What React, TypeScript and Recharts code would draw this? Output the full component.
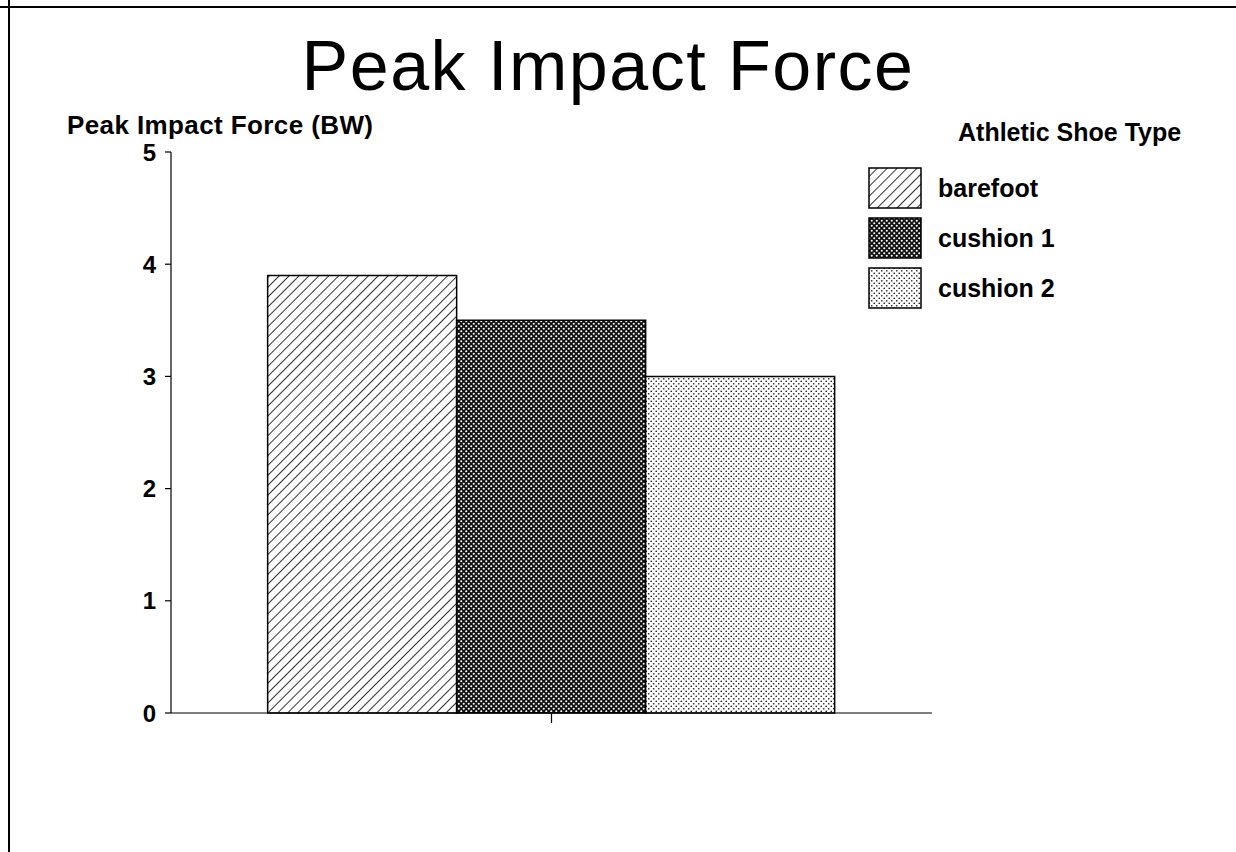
import { BarChart, Bar, XAxis, YAxis, Legend } from 'recharts'

const categories = ['Athletic Shoe Type']
const seriesNames = ['barefoot', 'cushion 1', 'cushion 2']
const seriesValues = [3.9, 3.5, 3.0]
const yTicks = [0, 1, 2, 3, 4, 5]

const patternIds = ['hatch', 'dense', 'dots']

const chartData = categories.map((name) => {
  const row: Record<string, string | number> = { name }
  seriesNames.forEach((s, i) => {
    row[s] = seriesValues[i]
  })
  return row
})

const FONT = '"Liberation Sans", Arial, Helvetica, sans-serif'

function LegendBox({ payload }: any) {
  return (
    <div style={{ fontFamily: FONT, fontWeight: 700, color: '#000' }}>
      <div style={{ marginLeft: 90, fontSize: 25, lineHeight: '25px', height: 43, whiteSpace: 'nowrap' }}>
        Athletic Shoe Type
      </div>
      {(payload || []).map((entry: any, i: number) => (
        <div key={`leg-${i}`} style={{ display: 'flex', alignItems: 'center', height: 50 }}>
          <svg width={54} height={42} style={{ display: 'block' }}>
            <rect x={1} y={1} width={52} height={40} fill={entry.color} stroke="#000" strokeWidth={1.5} />
          </svg>
          <span style={{ marginLeft: 16, fontSize: 25, lineHeight: '25px' }}>{entry.value}</span>
        </div>
      ))}
    </div>
  )
}

export default function App() {
  return (
    <div style={{ position: 'relative', width: 1236, height: 852, background: '#fff', overflow: 'hidden' }}>
      <style>{'body{margin:0}'}</style>
      {/* frame edges */}
      <div style={{ position: 'absolute', left: 0, top: 6, width: 1236, height: 2, background: '#000' }} />
      <div style={{ position: 'absolute', left: 8, top: 0, width: 2, height: 852, background: '#000' }} />

      <div
        style={{
          position: 'absolute', left: 0, width: 1216, top: 31, textAlign: 'center',
          fontFamily: FONT, fontSize: 70, lineHeight: '70px', letterSpacing: 1.5, color: '#000',
        }}
      >
        Peak Impact Force
      </div>
      <div
        style={{
          position: 'absolute', left: 67, top: 116, fontFamily: FONT, fontWeight: 700,
          fontSize: 26, lineHeight: '18px', letterSpacing: 0.4, color: '#000', whiteSpace: 'nowrap',
        }}
      >
        Peak Impact Force (BW)
      </div>

      <BarChart
        width={1236}
        height={852}
        data={chartData}
        margin={{ top: 152, right: 304, bottom: 109, left: 111 }}
        barCategoryGap="12.7%"
        barGap={0}
      >
        <defs>
          <pattern id="hatch" width="7" height="7" patternUnits="userSpaceOnUse" patternTransform="rotate(45)">
            <rect width="7" height="7" fill="#fff" />
            <line x1="0" y1="0" x2="0" y2="7" stroke="#000" strokeWidth="1.6" />
          </pattern>
          <pattern id="dense" width="5" height="5" patternUnits="userSpaceOnUse">
            <rect width="5" height="5" fill="#111" />
            <circle cx="1.25" cy="1.25" r="1.05" fill="#fff" />
            <circle cx="3.75" cy="3.75" r="1.05" fill="#fff" />
          </pattern>
          <pattern id="dots" width="5" height="5" patternUnits="userSpaceOnUse">
            <rect width="5" height="5" fill="#fff" />
            <circle cx="1.25" cy="1.25" r="0.85" fill="#222" />
            <circle cx="3.75" cy="3.75" r="0.85" fill="#222" />
          </pattern>
        </defs>
        <XAxis
          dataKey="name"
          height={30}
          axisLine={{ stroke: '#000', strokeWidth: 1.2 }}
          tickLine={{ stroke: '#000', strokeWidth: 1.2 }}
          tickSize={10}
          tickFormatter={() => ''}
        />
        <YAxis
          width={60}
          domain={[0, 5]}
          ticks={yTicks}
          interval={0}
          allowDecimals={false}
          axisLine={{ stroke: '#000', strokeWidth: 1.2 }}
          tickLine={{ stroke: '#000', strokeWidth: 1.2 }}
          tickSize={6}
          tickMargin={9}
          tick={{ fill: '#000', fontFamily: FONT, fontWeight: 700, fontSize: 24 }}
        />
        <Legend
          layout="vertical"
          align="center"
          verticalAlign="middle"
          content={<LegendBox />}
          wrapperStyle={{ top: 120, left: 868, width: 360 }}
        />
        {seriesNames.map((s, i) => (
          <Bar
            key={s}
            dataKey={s}
            name={s}
            fill={`url(#${patternIds[i]})`}
            stroke="#000"
            strokeWidth={1.5}
            isAnimationActive={false}
          />
        ))}
      </BarChart>
    </div>
  )
}
